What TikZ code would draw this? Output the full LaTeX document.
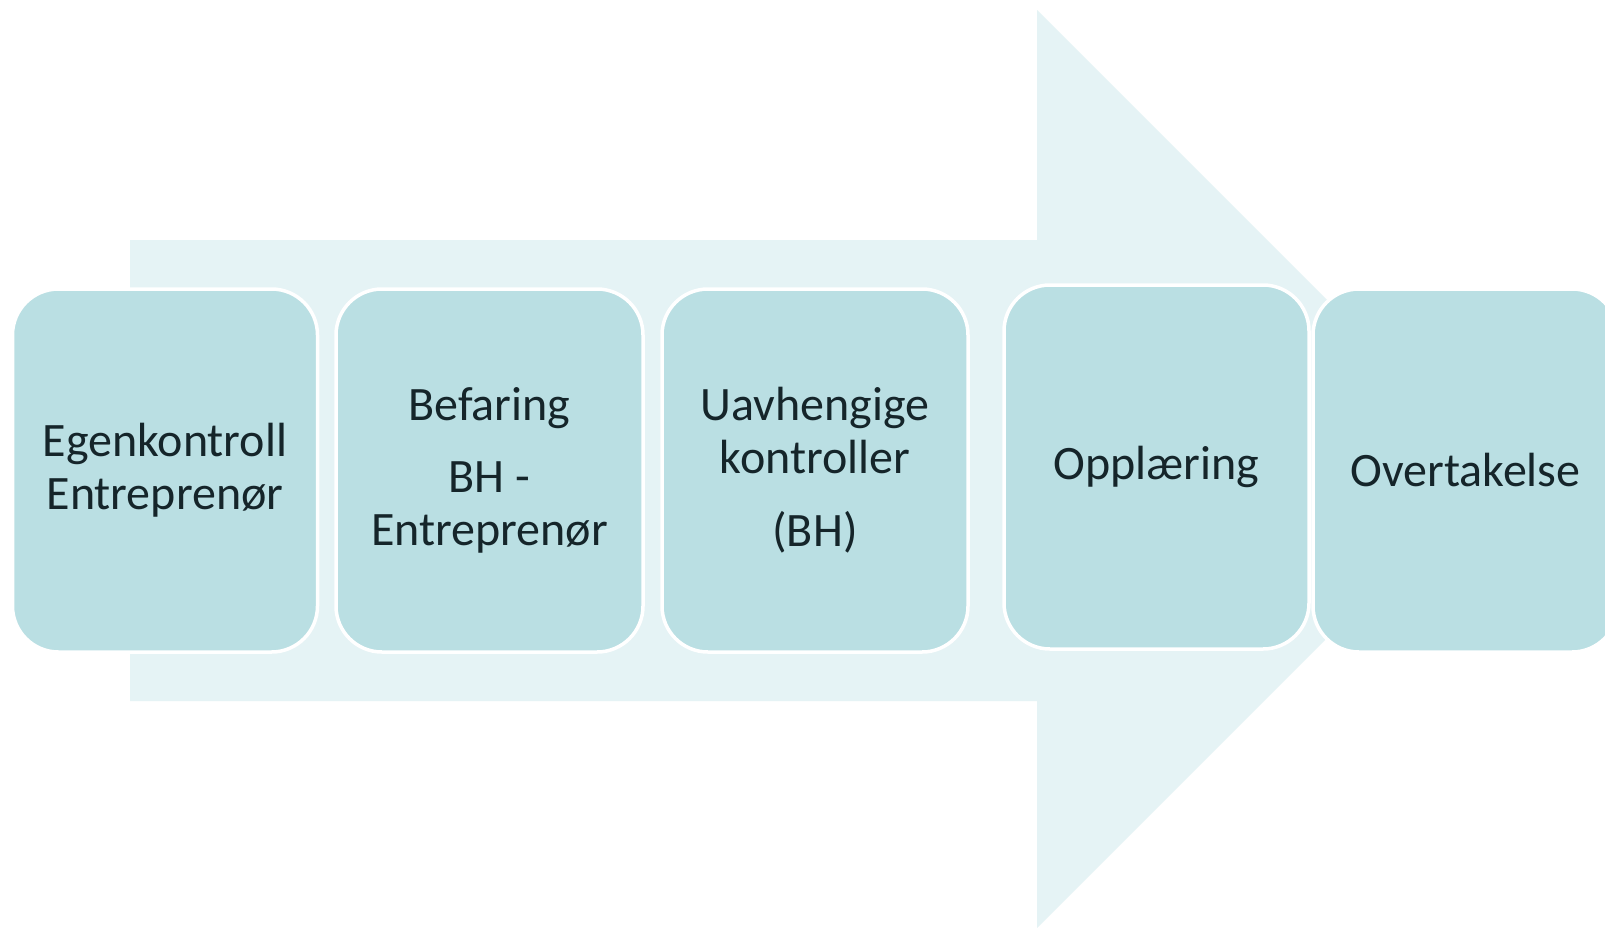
\documentclass[tikz,border=0pt]{standalone}
\usepackage{fontspec}
\setmainfont{Carlito}
\definecolor{arrowfill}{HTML}{E5F3F5}
\definecolor{boxfill}{HTML}{BADFE3}
\definecolor{txt}{HTML}{15252A}
\begin{document}
\begin{tikzpicture}[x=1pt,y=-1pt,
  stage/.style={draw=white, line width=3.5pt, fill=boxfill, rounded corners=46pt,
    minimum width=305pt, minimum height=363pt, inner sep=0pt, outer sep=0pt,
    align=center, text=txt, font=\fontsize{48}{53}\selectfont}]
\useasboundingbox (0,0) rectangle (1605,927);
\fill[white] (0,0) rectangle (1605,927);
\fill[arrowfill] (130,240) -- (1037,240) -- (1037,10) -- (1496,469) -- (1037,928) -- (1037,701) -- (130,701) -- cycle;
\node[stage] (s1) at (165,470.5) {Egenkontroll\\Entreprenør};
\node[stage, minimum width=307pt] (s2) at (489.5,470.5) {Befaring\\[19pt]BH -\\Entreprenør};
\node[stage, minimum width=306pt] (s3) at (815,470.5) {Uavhengige\\kontroller\\[20pt](BH)};
\node[stage, minimum height=364pt] (s4) at (1156.5,467) {Opplæring};
\node[stage] (s5) at (1465.5,470.5) {Overtakelse};
\end{tikzpicture}
\end{document}
